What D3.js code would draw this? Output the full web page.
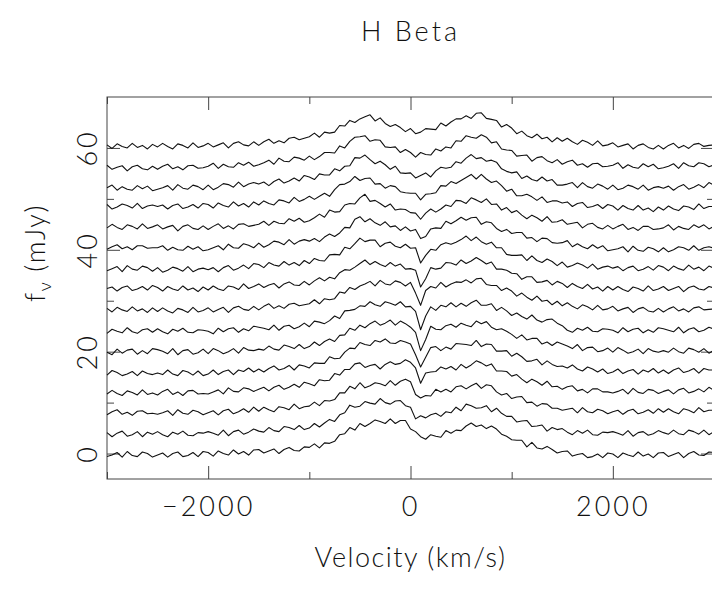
<!DOCTYPE html>
<html>
<head>
<meta charset="utf-8">
<script src="https://cdn.jsdelivr.net/npm/d3@7"></script>
<style>
  body { margin: 0; background: #fff; }
  text { font-family: Lato, "DejaVu Sans", sans-serif; font-weight: 300; fill: #111; }
</style>
</head>
<body>
<div id="grafHB"></div>
<script>
// Perfiles H Beta apilados (flujo relativo al desplazamiento de cada espectro)
//

// eje de velocidad: bins de 50 km/s de -3000 a 3000
vel_ini = -3000
vel_paso = 50

// desplazamientos verticales (mJy), de abajo hacia arriba
desplazamientos = [0, 4, 8, 12, 16, 20, 24, 28, 32, 36, 40, 44, 48, 52, 56, 60]

// ticks
ticksX = [-2000, 0, 2000]
ticksXmenor = [-3000, -1000, 1000, 3000]
ticksY = [0, 20, 40, 60]
ticksYmenor = [10, 30, 50]

// flujos (mJy sobre el desplazamiento)
f60 = [0.6,-0.1,0.8,0.3,0.0,0.9,0.1,0.5,-0.2,0.7,
       0.2,0.9,0.3,-0.2,0.8,0.5,0.0,1.0,0.1,0.4,
       0.9,0.2,0.6,1.0,0.0,0.9,1.2,0.6,0.4,1.2,
       0.5,1.2,1.7,0.9,1.4,1.0,1.9,2.1,1.6,1.9,
       2.2,2.9,2.1,3.1,2.9,3.1,4.4,4.3,5.4,5.0,
       5.7,6.1,6.5,5.3,5.9,4.8,4.2,4.6,4.0,3.2,
       3.8,2.8,3.1,3.8,3.7,3.6,4.9,4.3,5.1,5.7,
       5.7,6.3,5.8,6.8,6.9,5.8,5.6,5.4,4.1,4.6,
       3.9,2.8,3.3,2.4,2.0,2.7,1.8,2.1,1.2,2.0,
       1.3,1.9,1.2,0.7,1.5,1.1,0.5,1.4,0.4,0.6,
       1.0,0.2,0.5,0.8,-0.2,0.5,0.8,0.1,-0.2,0.5,
       -0.2,0.5,0.9,0.0,0.5,-0.1,0.7,0.9,0.3,0.5,
       0.6]
f56 = [0.6,-0.2,0.2,0.5,-0.5,0.3,0.6,-0.1,-0.3,0.4,
       -0.2,0.4,0.8,-0.1,0.3,-0.3,0.5,0.6,0.0,0.1,
       0.4,1.0,0.0,0.8,0.3,0.2,1.1,0.6,1.2,0.4,
       0.7,1.1,1.6,0.8,2.0,1.4,1.3,2.2,2.0,1.6,
       2.4,1.7,2.3,3.1,3.1,3.0,4.4,4.0,5.3,6.1,
       6.2,6.4,5.3,5.6,5.5,4.2,4.1,4.2,3.1,3.7,
       3.1,2.2,3.1,2.7,2.6,3.8,3.4,4.2,4.0,5.4,
       5.3,6.4,6.1,5.9,6.6,6.1,5.0,5.2,3.8,3.6,
       3.5,2.4,2.5,2.6,1.4,2.1,2.3,1.5,1.1,1.7,
       0.8,1.3,1.6,0.6,0.9,0.2,0.9,1.0,0.3,0.4,
       0.6,1.1,0.0,0.7,0.2,0.0,0.9,0.3,0.8,-0.1,
       0.1,0.4,0.9,0.0,1.1,0.5,0.3,1.1,0.9,0.3,
       0.7]
f52 = [0.2,0.7,-0.3,0.4,-0.1,-0.3,0.6,0.0,0.5,-0.4,
       -0.1,0.2,0.6,-0.3,0.8,0.1,-0.1,0.7,0.4,-0.2,
       0.7,-0.2,0.3,1.0,0.8,0.3,1.3,0.4,0.9,1.2,
       0.9,1.3,0.6,1.4,1.9,1.1,1.5,2.1,1.5,2.6,
       2.3,1.8,2.9,2.7,2.7,3.9,3.5,4.4,4.5,6.1,
       6.0,6.6,5.7,4.9,5.4,4.7,3.8,4.4,3.1,3.0,
       3.1,2.1,2.6,3.1,2.3,3.5,4.2,4.0,4.2,5.3,
       5.0,6.0,6.7,5.9,6.1,5.4,5.6,5.2,3.9,3.4,
       3.1,3.3,2.0,2.5,1.8,1.5,2.3,1.5,1.8,0.7,
       0.7,0.9,1.2,0.2,1.2,0.4,0.1,0.9,0.5,-0.1,
       0.7,-0.2,0.1,0.7,0.4,-0.1,0.7,-0.3,0.2,0.4,
       0.1,0.5,-0.3,0.4,0.8,-0.1,0.3,0.8,0.2,1.2,
       0.7]
f48 = [0.9,0.0,0.4,1.0,0.7,0.2,1.1,0.1,0.6,0.8,
       0.5,0.8,0.0,0.7,1.0,0.1,0.4,0.9,0.2,1.1,
       0.9,0.2,1.2,0.7,0.4,1.4,0.6,1.1,0.4,1.4,
       0.8,1.6,1.1,0.8,1.8,1.6,1.2,2.3,1.5,1.9,
       2.5,1.9,2.5,3.1,2.5,3.8,4.8,4.9,5.4,6.4,
       5.6,6.0,6.1,4.9,5.0,4.1,4.6,4.4,3.4,3.2,
       3.1,3.1,1.8,2.9,3.0,3.2,4.6,4.5,5.4,5.0,
       5.6,6.2,6.8,5.9,6.8,5.9,5.2,5.5,4.6,3.5,
       3.9,2.6,2.6,2.9,2.4,1.7,2.4,1.3,1.6,1.6,
       1.2,1.4,0.5,1.1,1.3,0.3,0.5,0.9,0.1,0.9,
       0.6,-0.2,0.7,0.1,-0.2,0.7,-0.2,0.2,-0.5,0.4,
       -0.2,0.6,0.0,-0.3,0.6,0.4,-0.1,1.0,0.1,0.5,
       0.5]
f44 = [0.3,1.0,0.4,0.0,0.9,0.6,0.1,1.1,0.2,0.5,
       0.9,0.1,0.5,0.8,-0.3,0.6,0.9,0.2,0.0,0.7,
       0.0,0.6,1.1,0.2,0.7,0.1,1.0,1.1,0.6,0.8,
       1.0,1.6,0.8,1.6,1.2,1.1,2.1,1.6,2.2,1.4,
       1.7,2.3,3.0,2.4,3.8,3.4,3.5,4.8,5.1,5.0,
       6.2,6.9,5.5,5.7,5.1,4.4,5.0,3.8,4.0,3.9,
       3.3,3.2,2.0,3.2,4.0,3.4,4.0,4.8,4.5,5.7,
       5.6,5.1,6.2,5.8,5.3,6.0,4.9,5.0,3.8,4.3,
       3.3,3.7,2.8,2.1,2.8,2.3,1.6,2.5,1.4,1.5,
       1.9,1.0,1.2,1.4,0.3,1.0,1.2,0.4,0.1,0.8,
       0.1,0.6,1.0,0.0,0.4,-0.2,0.6,0.6,0.0,0.1,
       0.3,0.9,-0.1,0.6,0.2,0.0,0.9,0.4,0.9,0.1,
       0.6]
f40 = [0.1,0.6,1.0,0.2,0.6,0.0,0.8,0.8,0.3,0.4,
       0.4,0.8,-0.1,0.5,0.0,-0.1,0.7,0.1,0.6,-0.2,
       0.0,0.4,0.8,0.0,1.1,0.4,0.3,1.2,0.9,0.4,
       1.3,0.5,1.0,1.7,1.5,1.0,2.0,1.1,1.7,2.0,
       1.7,2.2,1.6,2.5,3.1,2.6,3.3,4.4,4.3,6.0,
       6.5,5.5,6.1,5.3,4.8,5.5,4.5,4.7,3.8,4.5,
       3.7,4.0,2.2,2.6,4.1,4.3,4.2,5.6,5.1,5.7,
       6.4,5.8,6.3,6.4,5.0,5.5,5.3,4.2,3.6,4.0,
       3.2,3.4,3.4,2.3,2.4,1.6,2.3,2.2,1.4,1.3,
       1.4,1.8,0.6,1.2,0.6,0.2,1.0,0.3,0.8,-0.2,
       0.0,0.2,0.6,-0.4,0.7,-0.1,-0.3,0.5,0.2,-0.4,
       0.4,-0.4,0.0,0.6,0.4,-0.1,0.8,-0.1,0.4,0.6,
       0.3]
f36 = [-0.1,0.3,0.7,-0.3,0.9,0.2,0.0,0.8,0.5,-0.2,
       0.5,-0.4,0.0,0.6,0.3,-0.2,0.7,-0.3,0.2,0.4,
       0.1,0.5,-0.3,0.5,0.9,0.0,0.4,1.0,0.3,1.3,
       1.1,0.5,1.5,1.0,0.8,1.7,1.0,1.5,0.9,1.9,
       1.3,2.3,1.9,1.8,3.0,3.1,3.0,4.5,4.2,5.2,
       6.3,5.6,5.9,5.9,4.6,5.3,5.5,4.7,4.4,5.1,
       4.3,4.4,1.4,2.9,4.1,3.9,5.0,5.4,5.1,5.5,
       6.0,6.7,5.8,6.5,5.6,5.1,5.5,4.4,4.4,3.1,
       2.9,2.9,3.0,1.9,2.8,1.9,1.5,2.2,1.7,0.9,
       1.6,0.6,0.9,1.4,1.0,0.4,1.2,0.2,0.6,0.8,
       0.4,0.7,-0.1,0.5,0.8,-0.1,0.2,0.7,0.0,0.9,
       0.6,-0.1,0.8,0.3,0.0,1.0,0.2,0.6,-0.1,0.8,
       0.4]
f32 = [0.4,0.7,-0.1,0.6,0.9,0.0,0.3,0.8,0.1,1.0,
       0.6,-0.1,0.8,0.3,0.0,0.9,0.1,0.5,-0.2,0.7,
       0.1,0.9,0.3,0.0,0.9,0.7,0.2,1.3,0.4,0.8,
       1.3,0.6,1.1,1.4,0.5,1.3,1.7,1.1,1.0,1.8,
       1.1,1.9,2.5,1.9,2.6,2.3,3.5,4.1,4.0,4.6,
       5.3,6.0,5.1,5.7,5.1,4.7,5.5,4.8,5.2,4.2,
       4.3,4.0,0.7,2.3,4.5,4.2,4.4,5.5,5.4,5.0,
       6.0,5.3,5.8,6.5,5.9,5.2,5.6,4.2,4.2,4.0,
       3.4,3.3,2.2,2.7,2.7,1.6,1.7,2.0,1.1,1.8,
       1.4,0.6,1.4,0.8,0.4,1.2,0.3,0.7,-0.1,0.8,
       0.1,0.8,0.2,-0.2,0.7,0.4,-0.1,0.9,0.0,0.3,
       0.8,0.0,0.4,0.8,-0.2,0.6,0.9,0.3,0.1,0.8,
       0.5]
f28 = [0.5,-0.2,0.7,0.2,-0.1,0.8,0.0,0.4,-0.3,0.6,
       -0.1,0.6,0.0,-0.4,0.5,0.2,-0.3,0.7,-0.2,0.1,
       0.6,-0.2,0.3,0.7,-0.3,0.6,0.9,0.3,0.1,0.9,
       0.2,0.9,1.4,0.5,1.0,0.5,1.3,1.5,1.0,1.2,
       1.4,2.2,1.4,2.4,2.2,2.4,3.7,3.5,4.6,4.2,
       4.9,5.3,5.8,4.9,6.0,5.3,5.1,5.9,5.6,4.9,
       5.6,3.5,1.1,4.0,4.8,4.5,5.6,4.7,5.3,5.7,
       5.6,6.1,5.5,6.3,6.4,5.2,5.0,5.0,4.0,4.5,
       3.9,2.9,3.5,2.7,2.1,2.9,1.9,2.1,1.2,1.9,
       1.0,1.6,0.9,0.4,1.2,0.8,0.2,1.1,0.2,0.4,
       0.9,0.0,0.4,0.7,-0.3,0.4,0.7,0.0,-0.2,0.5,
       -0.2,0.4,0.8,0.0,0.4,-0.2,0.6,0.8,0.2,0.3,
       0.4]
f24 = [-0.4,0.4,0.0,-0.3,0.7,-0.1,-0.4,0.3,0.5,-0.2,
       0.5,-0.1,-0.5,0.4,0.0,0.6,-0.2,-0.3,0.3,0.2,
       0.0,-0.5,0.6,-0.1,0.5,0.7,-0.2,0.5,0.1,1.0,
       0.8,0.6,0.3,1.2,0.2,1.0,1.2,0.5,0.9,1.6,
       0.9,2.0,1.8,1.5,2.1,3.0,2.5,4.0,4.1,4.3,
       5.0,4.9,5.8,5.2,4.9,5.8,5.5,5.1,5.8,4.8,
       4.9,3.9,0.3,3.0,4.8,4.1,5.1,4.8,5.6,4.8,
       5.5,4.9,5.6,6.1,5.1,5.1,5.4,4.1,4.7,4.0,
       3.1,3.6,2.9,2.4,3.2,2.2,1.8,2.3,2.4,1.6,
       1.1,0.2,-0.2,0.6,0.2,0.8,0.0,-0.1,0.5,0.4,
       0.2,-0.3,0.7,-0.1,0.4,0.6,-0.3,0.3,-0.2,0.7,
       0.5,0.2,-0.1,0.8,-0.3,0.4,0.7,-0.1,0.2,0.8,
       0.4]
f20 = [-0.1,-0.6,0.5,-0.3,0.3,0.5,-0.5,0.2,-0.4,0.6,
       0.4,0.1,-0.4,0.6,-0.6,0.2,0.4,-0.5,-0.2,0.5,
       -0.4,0.6,0.2,-0.4,0.0,0.6,-0.3,0.8,0.3,0.2,
       0.5,0.3,1.1,0.5,0.3,1.3,1.0,0.6,1.4,0.6,
       1.0,1.9,1.2,2.0,2.5,2.0,3.2,3.3,4.6,4.2,
       5.2,4.7,5.5,6.0,5.2,5.6,6.2,5.2,6.0,5.5,
       4.8,3.8,0.2,2.4,5.0,4.4,4.3,5.1,5.4,4.8,
       5.6,5.2,4.9,6.0,5.5,5.9,4.8,4.3,4.5,4.0,
       3.4,2.6,3.3,2.3,2.6,2.6,1.5,1.9,1.2,1.9,
       1.5,1.1,0.6,1.4,0.2,0.8,0.9,0.0,0.2,0.7,
       -0.1,0.8,0.3,-0.3,0.0,0.5,-0.4,0.6,0.1,-0.1,
       0.2,-0.1,0.7,0.0,-0.3,0.7,0.4,-0.1,0.6,-0.3,
       0.3]
f16 = [-0.6,0.3,-0.1,-0.7,-0.4,0.1,-0.7,0.2,-0.3,-0.5,
       -0.2,-0.5,0.4,-0.4,-0.7,0.3,0.0,-0.6,0.2,-0.7,
       -0.4,0.4,-0.5,0.1,0.4,-0.5,0.4,0.1,0.8,0.0,
       0.6,0.0,0.7,1.2,0.4,0.7,1.3,0.4,1.4,1.2,
       0.8,1.8,1.7,1.7,3.0,2.6,2.7,3.9,4.7,4.6,
       5.8,5.4,5.2,6.2,5.9,6.5,5.7,5.6,6.2,5.9,
       5.5,3.4,1.0,2.9,4.8,5.0,4.2,4.9,4.5,5.6,
       5.5,5.4,5.2,6.2,5.0,5.5,5.4,4.1,4.1,4.2,
       3.1,3.7,3.0,2.1,2.2,2.5,1.4,2.2,1.5,1.1,
       1.2,0.8,1.4,0.6,0.2,1.0,0.6,0.0,0.6,-0.3,
       0.0,0.6,-0.3,0.2,0.5,-0.4,0.4,0.0,0.7,-0.2,
       0.4,-0.3,0.4,0.8,-0.1,0.2,0.7,-0.2,0.7,0.4,
       0.4]
f12 = [-0.3,0.4,-0.2,-0.6,0.3,0.0,-0.5,0.5,-0.4,-0.1,
       -0.5,0.2,0.6,-0.4,0.1,-0.6,0.3,0.4,-0.3,-0.2,
       -0.3,0.1,0.5,-0.3,0.9,0.2,0.1,0.9,0.7,0.2,
       0.6,1.0,0.3,1.0,1.4,0.6,1.0,1.6,1.0,2.0,
       1.7,1.3,2.5,2.3,2.4,3.7,3.4,4.5,4.5,5.6,
       5.8,4.9,5.3,5.5,4.6,5.5,6.0,5.5,5.7,6.4,
       5.9,4.8,1.8,3.8,4.0,4.1,5.0,4.6,5.1,4.4,
       5.5,4.8,5.4,6.2,5.8,5.2,5.6,4.2,4.2,4.1,
       3.2,3.5,2.6,1.9,2.6,2.1,1.4,2.2,1.1,1.2,
       0.6,1.1,1.3,0.3,0.6,-0.1,0.7,0.7,0.1,0.1,
       -0.1,0.2,0.6,-0.3,0.8,0.0,-0.2,0.6,0.4,-0.2,
       0.2,0.5,-0.3,0.5,0.8,-0.1,0.2,0.7,0.1,1.0,
       0.4]
f08 = [-0.4,0.2,0.6,-0.3,0.1,-0.5,0.3,0.4,-0.2,-0.1,
       -0.3,0.0,0.4,-0.5,0.6,-0.1,-0.3,0.5,0.2,-0.4,
       0.0,0.4,-0.4,0.4,0.7,-0.2,0.2,0.8,0.1,1.1,
       0.3,1.1,0.6,0.2,1.2,1.0,0.6,1.7,0.8,1.2,
       1.3,2.1,1.4,2.4,2.3,2.6,3.9,3.9,5.2,4.7,
       5.9,4.9,5.3,5.9,5.7,5.3,6.3,5.4,6.2,6.6,
       6.1,3.6,2.9,3.4,3.3,4.6,4.1,4.6,4.1,5.1,
       5.3,4.7,5.3,5.8,4.8,5.5,5.3,4.1,3.5,3.8,
       2.8,3.1,3.2,2.0,2.1,1.3,1.8,1.7,0.9,0.9,
       0.5,0.7,0.9,0.0,1.0,0.2,0.0,0.7,0.4,-0.2,
       0.2,0.5,-0.3,0.4,0.7,-0.2,0.1,0.6,-0.1,0.8,
       0.1,0.8,0.2,-0.2,0.8,0.5,0.0,1.0,0.2,0.5,
       0.5]
f04 = [0.1,-0.7,0.0,0.4,-0.6,-0.3,0.3,-0.7,0.2,-0.2,
       0.3,-0.3,-0.7,0.2,-0.2,0.4,-0.4,-0.5,0.1,0.0,
       0.3,0.0,-0.4,0.6,-0.5,0.3,0.6,-0.2,0.2,0.8,
       0.4,0.2,1.1,0.5,0.3,1.3,1.1,0.7,1.5,0.7,
       1.0,1.9,1.2,2.0,2.7,2.3,3.6,4.0,5.5,5.1,
       5.3,6.2,5.9,5.7,6.8,6.0,5.7,6.3,6.4,5.4,
       5.1,2.8,3.4,3.0,3.6,3.9,3.3,4.2,4.0,5.1,
       4.4,5.7,5.4,4.9,5.0,5.4,4.2,4.9,3.9,3.3,
       3.3,2.2,2.4,2.5,1.3,1.4,1.6,0.4,1.1,0.7,
       0.9,0.2,-0.3,0.5,0.0,0.6,-0.3,-0.4,0.2,0.1,
       0.3,0.0,-0.4,0.5,-0.6,0.1,0.3,-0.4,-0.1,0.5,
       0.1,-0.2,0.6,-0.1,-0.3,0.6,0.3,-0.2,0.6,-0.3,
       0.3]
f00 = [-0.6,-0.3,0.2,-0.7,0.4,-0.4,-0.6,0.3,0.0,-0.7,
       -0.3,0.1,-0.7,0.0,0.3,-0.6,-0.4,0.2,-0.6,0.4,
       0.2,-0.5,0.5,0.0,-0.3,0.7,-0.1,0.4,-0.3,0.7,
       0.8,0.1,0.5,0.9,0.0,0.8,1.2,0.6,0.5,1.3,
       1.2,1.9,1.1,2.1,2.0,2.4,3.7,3.9,5.1,4.6,
       5.9,5.3,5.9,6.6,6.3,5.9,6.8,5.9,6.5,6.5,
       4.8,4.3,3.3,2.8,3.7,3.4,3.2,4.5,4.0,4.6,
       4.5,5.4,6.0,5.3,5.6,4.9,5.4,4.8,3.8,3.4,
       2.7,2.6,2.6,1.3,2.2,1.1,0.9,1.4,0.8,0.1,
       0.4,0.5,-0.5,-0.2,0.0,-0.8,-0.6,-0.1,-0.8,0.1,
       -0.1,-0.8,0.1,-0.3,-0.6,0.3,-0.5,-0.1,-0.8,0.1,
       0.2,-0.6,-0.2,0.2,-0.8,0.0,0.4,-0.3,-0.4,0.3,
       0.2]

espectros = [f00, f04, f08, f12, f16, f20, f24, f28, f32, f36, f40, f44, f48, f52, f56, f60]

// dimensiones
ancho_total = 712
alto_total = 596
marco = { left: 107, right: 714, top: 97, bottom: 479 }

svg = d3.select('#grafHB').append('svg')
        .attr('width', ancho_total)
        .attr('height', alto_total)
        .style('display', 'block')

svg.append('rect')
   .attr('width', ancho_total)
   .attr('height', alto_total)
   .attr('fill', '#fff')

// escaladores
x = d3.scaleLinear().domain([-3000, 3000]).range([marco.left, marco.right])
y = d3.scaleLinear().domain([-5, 70]).range([marco.bottom, marco.top])

// marco
svg.append('rect')
   .attr('x', marco.left)
   .attr('y', marco.top)
   .attr('width', marco.right - marco.left)
   .attr('height', marco.bottom - marco.top)
   .attr('fill', 'none')
   .attr('stroke', '#444')
   .attr('stroke-width', 1)

// ejes (ticks hacia adentro)
function estiloEje(g) {
  g.select('.domain').remove()
  g.selectAll('line').attr('stroke', '#444').attr('stroke-width', 1)
}

svg.append('g')
   .attr('transform', `translate(0, ${marco.bottom})`)
   .call(d3.axisBottom(x).tickValues(ticksX).tickSizeInner(-13).tickSizeOuter(0)
           .tickPadding(18).tickFormat(d3.format('d')))
   .call(estiloEje)
   .call(g => g.selectAll('text')
               .attr('font-size', 27)
               .attr('letter-spacing', 3)
               .attr('font-family', 'Lato, "DejaVu Sans", sans-serif')
               .attr('fill', '#111'))
svg.append('g')
   .attr('transform', `translate(0, ${marco.bottom})`)
   .call(d3.axisBottom(x).tickValues(ticksXmenor).tickSize(-7).tickFormat(''))
   .call(estiloEje)

svg.append('g')
   .attr('transform', `translate(0, ${marco.top})`)
   .call(d3.axisTop(x).tickValues(ticksX).tickSize(-13).tickFormat(''))
   .call(estiloEje)
svg.append('g')
   .attr('transform', `translate(0, ${marco.top})`)
   .call(d3.axisTop(x).tickValues(ticksXmenor).tickSize(-7).tickFormat(''))
   .call(estiloEje)

svg.append('g')
   .attr('transform', `translate(${marco.left}, 0)`)
   .call(d3.axisLeft(y).tickValues(ticksY).tickSize(-13).tickFormat(''))
   .call(estiloEje)
svg.append('g')
   .attr('transform', `translate(${marco.left}, 0)`)
   .call(d3.axisLeft(y).tickValues(ticksYmenor).tickSize(-7).tickFormat(''))
   .call(estiloEje)
svg.append('g')
   .attr('transform', `translate(${marco.right}, 0)`)
   .call(d3.axisRight(y).tickValues(ticksY).tickSize(-13).tickFormat(''))
   .call(estiloEje)
svg.append('g')
   .attr('transform', `translate(${marco.right}, 0)`)
   .call(d3.axisRight(y).tickValues(ticksYmenor).tickSize(-7).tickFormat(''))
   .call(estiloEje)

// etiquetas del eje Y, giradas
svg.selectAll('text.ylab')
   .data(ticksY)
   .join('text')
   .attr('class', 'ylab')
   .attr('transform', d => `translate(97, ${y(d)}) rotate(-90)`)
   .attr('text-anchor', 'middle')
   .attr('font-size', 27)
   .attr('letter-spacing', 3)
   .text(d => d)

// titulo y nombres de ejes
svg.append('text')
   .attr('x', x(0))
   .attr('y', 41)
   .attr('text-anchor', 'middle')
   .attr('font-size', 27)
   .attr('letter-spacing', 3)
   .text('H Beta')

svg.append('text')
   .attr('x', x(0))
   .attr('y', 567)
   .attr('text-anchor', 'middle')
   .attr('font-size', 27)
   .attr('letter-spacing', 1.5)
   .text('Velocity (km/s)')

etiquetaY = svg.append('text')
   .attr('transform', `translate(45, 253) rotate(-90)`)
   .attr('text-anchor', 'middle')
   .attr('font-size', 27)
   .attr('letter-spacing', 1.5)
etiquetaY.append('tspan').text('f')
etiquetaY.append('tspan').attr('font-size', 18).attr('dy', 6).text('ν')
etiquetaY.append('tspan').attr('dy', -6).text(' (mJy)')

// lineas de los espectros
lineaGen = d3.line()
             .x((d, i) => x(vel_ini + i * vel_paso))
             .y(d => y(d.v + d.off))

svg.append('g')
   .selectAll('path')
   .data(espectros)
   .join('path')
   .attr('fill', 'none')
   .attr('stroke', '#111')
   .attr('stroke-width', 1.1)
   .attr('stroke-linejoin', 'round')
   .attr('d', (s, k) => lineaGen(s.map(v => ({ v: v, off: desplazamientos[k] }))))
</script>
</body>
</html>
